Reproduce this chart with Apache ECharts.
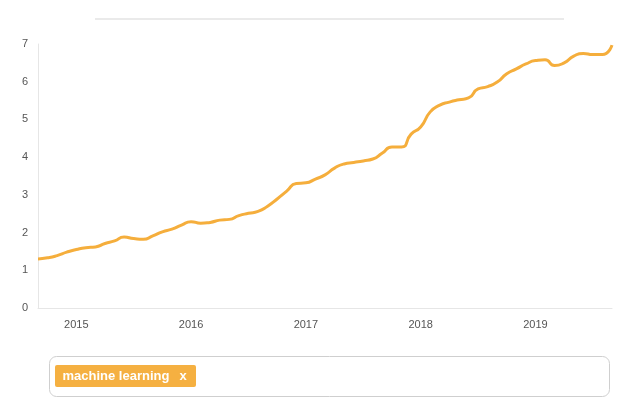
<!DOCTYPE html>
<html>
<head>
<meta charset="utf-8">
<script src="https://cdn.jsdelivr.net/npm/echarts@6/dist/echarts.min.js"></script>
<style>
html,body{margin:0;padding:0;background:#fff;}
#chart{width:638px;height:411px;}
</style>
</head>
<body>
<div id="chart"></div>
<script>
// Monthly categories Sep 2014 .. Sep 2019
const months = [];
(function(){
  let y = 2014, m = 9;
  while (y < 2019 || (y === 2019 && m <= 9)) {
    months.push(y + '-' + (m < 10 ? '0' + m : m));
    m++; if (m > 12) { m = 1; y++; }
  }
})();
const seriesName = 'machine learning';
const values = [
  1.30, 1.33, 1.39, 1.48, 1.55, 1.60, 1.62, 1.71, 1.78, 1.88, 1.84, 1.82,
  1.91, 2.02, 2.09, 2.20, 2.29, 2.25, 2.27, 2.33, 2.35, 2.45, 2.51, 2.56,
  2.70, 2.89, 3.10, 3.30, 3.32, 3.42, 3.53, 3.71, 3.82, 3.86, 3.90, 3.95,
  4.11, 4.27, 4.27, 4.61, 4.80, 5.20, 5.38, 5.46, 5.52, 5.57, 5.81, 5.87,
  5.99, 6.21, 6.34, 6.47, 6.56, 6.58, 6.43, 6.50, 6.68, 6.75, 6.72, 6.72,
  6.97
];
const yTicks = [0, 1, 2, 3, 4, 5, 6, 7];

const chart = echarts.init(document.getElementById('chart'), null, {renderer: 'canvas'});
chart.setOption({
  animation: false,
  grid: {left: 38, right: 26, top: 44, bottom: 103},
  xAxis: {
    type: 'category',
    data: months,
    boundaryGap: false,
    axisLine: {lineStyle: {color: '#e6e6e6'}},
    axisTick: {show: false},
    axisLabel: {
      color: '#555', fontSize: 11, fontFamily: 'Liberation Sans, Arial, sans-serif', margin: 11,
      interval: function(i, v){ return v.slice(5) === '01'; },
      formatter: function(v){ return v.slice(0, 4); }
    },
    splitLine: {show: false}
  },
  yAxis: {
    type: 'value',
    min: yTicks[0], max: yTicks[yTicks.length - 1], interval: 1,
    axisLine: {show: true, lineStyle: {color: '#e6e6e6'}},
    axisTick: {show: false},
    splitLine: {show: false},
    axisLabel: {color: '#555', fontSize: 11, fontFamily: 'Liberation Sans, Arial, sans-serif', margin: 10}
  },
  series: [{
    name: seriesName,
    type: 'line',
    data: values,
    smooth: 0.6,
    showSymbol: false,
    lineStyle: {color: '#F5AE3C', width: 3}
  }],
  graphic: [
    {type: 'line', shape: {x1: 95, y1: 19, x2: 564, y2: 19}, style: {stroke: '#e3e3e3', lineWidth: 1.5}},
    {type: 'rect', shape: {x: 49.5, y: 356.5, width: 560, height: 40, r: 7}, style: {fill: '#fff', stroke: '#cfcfcf', lineWidth: 1}},
    {type: 'rect', shape: {x: 55, y: 365, width: 141, height: 22, r: 2}, style: {fill: '#F5B041'}},
    {type: 'text', x: 62.5, y: 376.5, style: {text: seriesName, fill: '#fff', font: 'bold 13px Liberation Sans, Arial, sans-serif', textVerticalAlign: 'middle'}},
    {type: 'text', x: 179.5, y: 376.5, style: {text: 'x', fill: '#fff', font: 'bold 13px Liberation Sans, Arial, sans-serif', textVerticalAlign: 'middle'}}
  ]
});
</script>
</body>
</html>
